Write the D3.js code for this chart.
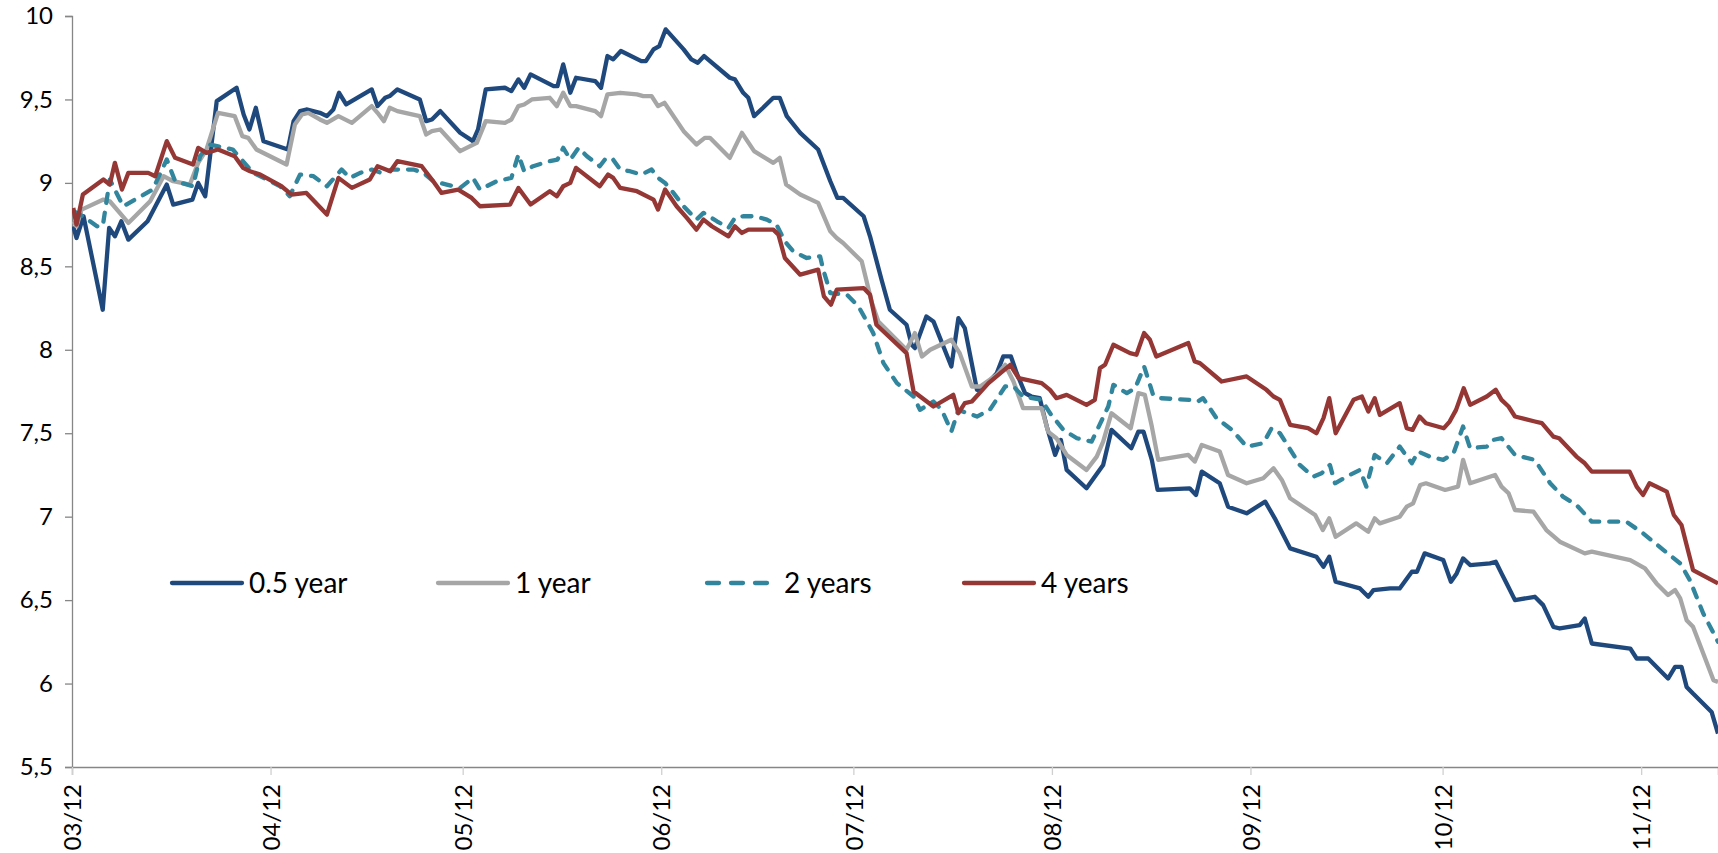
<!DOCTYPE html>
<html>
<head>
<meta charset="utf-8">
<script src="https://cdn.jsdelivr.net/npm/d3@7"></script>
<style>
  html, body { margin: 0; padding: 0; background: #fff; }
  svg { display: block; }
  text { font-family: Lato, "Open Sans", sans-serif; fill: #000; }
</style>
</head>
<body>
<svg id="chart" width="1718" height="853"></svg>
<script>
// Start date of the series (day offsets below are counted from it)
const startDate = "2012-03-01";

// Series names
const seriesNames = ["0.5 year", "1 year", "2 years", "4 years"];

// Y tick values
const yTicks = [5.5, 6, 6.5, 7, 7.5, 8, 8.5, 9, 9.5, 10];

// 0.5 year
const days05 = [0.2,0.7,1.8,4.8,5.8,6.7,7.7,8.8,11.8,14.8,15.8,18.8,19.7,20.8,22.6,25.7,26.8,27.7,28.7,29.9,33.7,34.6,35.6,36.6,38.7,39.8,40.8,41.7,42.8,46.8,47.7,48.9,49.6,50.8,54.3,55.3,56.2,57.5,60.6,62.6,63.4,64.6,67.6,68.6,69.7,70.6,71.6,75.2,75.8,76.7,77.8,78.7,81.7,82.6,83.6,84.5,85.7,88.9,89.6,90.8,91.7,92.7,95.5,96.7,97.7,98.7,102.7,103.5,104.8,105.6,106.5,107.9,109.5,110.5,111.6,113.7,116.5,118.4,119.5,120.4,123.6,124.6,126.4,127.7,130.3,131.1,131.6,133.4,134.5,137.3,138.4,139.4,141.3,142.0,144.4,145.4,146.6,147.5,148.8,149.8,151.1,152.2,153.5,154.4,155.3,158.4,161.0,162.3,165.4,166.5,167.3,168.6,169.5,174.5,175.5,176.4,179.2,180.5,183.4,186.3,187.8,190.2,194.3,195.4,196.3,197.3,201.1,202.4,203.2,205.8,207.3,209.2,210.0,211.2,214.1,215.3,216.2,217.2,218.3,221.4,222.3,223.2,224.0,225.3,228.4,229.7,231.3,232.3,235.4,236.2,237.3,243.3,244.3,246.1,249.2,250.3,251.3,252.1,253.1,256.0,257.0];
const vals05 = [8.74,8.67,8.80,8.24,8.73,8.68,8.77,8.66,8.77,8.99,8.87,8.90,9.00,8.92,9.49,9.57,9.41,9.32,9.45,9.25,9.20,9.37,9.43,9.44,9.42,9.40,9.44,9.54,9.47,9.56,9.46,9.51,9.52,9.56,9.50,9.37,9.38,9.43,9.30,9.25,9.32,9.56,9.57,9.55,9.62,9.57,9.65,9.58,9.58,9.71,9.54,9.63,9.61,9.57,9.76,9.74,9.79,9.73,9.73,9.80,9.82,9.92,9.80,9.74,9.72,9.76,9.63,9.62,9.54,9.51,9.40,9.45,9.51,9.51,9.40,9.30,9.20,9.01,8.91,8.91,8.80,8.68,8.42,8.24,8.15,8.03,8.01,8.20,8.17,7.90,8.19,8.13,7.76,7.76,7.86,7.96,7.96,7.86,7.74,7.72,7.71,7.54,7.37,7.46,7.28,7.17,7.31,7.52,7.41,7.51,7.51,7.34,7.16,7.17,7.13,7.27,7.20,7.06,7.02,7.09,6.99,6.81,6.76,6.70,6.76,6.61,6.57,6.52,6.56,6.57,6.57,6.67,6.67,6.78,6.74,6.61,6.66,6.75,6.71,6.72,6.73,6.66,6.60,6.50,6.52,6.47,6.34,6.33,6.35,6.39,6.24,6.21,6.15,6.15,6.03,6.10,6.10,5.98,5.94,5.83,5.70];

// 1 year
const days1 = [0.2,0.7,1.5,4.9,5.9,8.8,12.2,14.3,15.8,18.4,19.7,21.0,22.8,25.4,26.6,27.5,28.8,33.5,34.8,35.9,36.9,38.7,39.8,41.6,43.7,46.8,47.7,48.7,49.6,50.8,54.3,55.3,56.2,57.5,60.6,63.2,64.6,67.6,68.6,69.7,70.6,71.8,74.6,75.7,76.7,77.8,78.7,81.7,82.6,83.6,85.6,88.2,89.2,90.5,91.5,92.5,95.5,97.5,98.8,99.6,102.7,104.6,106.5,109.5,110.5,111.5,113.7,116.5,118.4,119.4,120.4,123.3,124.9,125.9,130.3,131.6,132.7,134.0,137.3,138.6,140.5,141.8,144.4,145.7,147.0,148.5,151.4,152.4,153.7,155.3,158.4,160.0,161.0,162.3,165.3,166.5,167.5,168.6,169.6,174.3,175.3,176.4,179.2,180.5,183.4,186.0,187.6,188.9,190.2,194.1,195.3,196.3,197.3,200.5,202.4,203.4,204.2,207.3,208.4,209.4,210.5,211.4,214.4,216.4,217.2,218.3,222.2,223.2,224.3,225.3,228.2,230.2,232.3,236.2,237.3,243.3,245.6,247.4,249.2,250.3,251.1,252.1,253.1,256.3,257.0];
const vals1 = [8.77,8.74,8.84,8.90,8.89,8.76,8.89,9.04,9.01,8.99,9.12,9.20,9.42,9.40,9.28,9.27,9.20,9.11,9.35,9.41,9.42,9.38,9.36,9.40,9.36,9.46,9.42,9.37,9.45,9.43,9.40,9.29,9.31,9.32,9.19,9.24,9.37,9.36,9.38,9.46,9.47,9.50,9.51,9.46,9.54,9.46,9.46,9.43,9.40,9.53,9.54,9.53,9.52,9.52,9.46,9.48,9.31,9.23,9.27,9.27,9.15,9.30,9.19,9.12,9.15,8.99,8.93,8.88,8.71,8.67,8.64,8.53,8.28,8.17,8.00,8.10,7.96,8.00,8.06,7.98,7.78,7.78,7.85,7.91,7.81,7.65,7.65,7.51,7.47,7.37,7.28,7.36,7.45,7.62,7.53,7.74,7.73,7.54,7.34,7.37,7.33,7.43,7.39,7.25,7.20,7.23,7.29,7.22,7.11,7.01,6.92,6.99,6.88,6.96,6.91,6.99,6.96,7.00,7.06,7.08,7.19,7.20,7.16,7.18,7.34,7.20,7.25,7.18,7.14,7.04,7.03,6.92,6.85,6.78,6.79,6.74,6.69,6.60,6.53,6.56,6.51,6.38,6.34,6.02,6.01];

// 2 years
const days2 = [0.3,1.7,3.9,4.8,5.9,8.0,12.6,14.8,16.1,18.9,20.0,21.5,25.1,28.3,32.5,34.0,35.6,37.7,39.8,42.1,43.4,45.0,46.8,48.3,50.2,53.3,54.9,56.4,58.5,60.6,62.6,63.7,66.3,68.6,69.7,70.6,72.0,74.6,75.8,76.7,77.8,79.1,80.4,82.4,83.2,84.3,85.6,87.1,88.9,90.5,91.5,92.6,93.9,95.5,97.5,98.6,100.7,102.5,103.5,104.8,106.6,108.5,110.0,111.3,112.6,114.7,116.8,117.3,118.4,121.0,122.8,125.1,126.7,128.8,131.4,132.4,134.5,135.8,137.3,138.4,141.3,143.3,145.7,147.0,148.5,151.4,152.7,154.8,156.9,159.2,161.8,162.6,164.7,166.0,167.4,168.8,169.9,174.5,175.8,176.6,178.7,181.1,183.4,186.0,187.3,188.6,189.6,191.7,193.8,195.1,196.4,197.2,199.5,201.1,202.1,203.4,205.3,207.3,209.2,210.2,212.0,214.1,215.7,217.2,218.3,220.9,221.9,223.2,225.3,228.4,230.8,232.8,234.9,237.3,239.6,242.7,245.3,248.5,251.1,252.6,254.7,257.0];
const vals2 = [8.83,8.80,8.74,8.74,9.02,8.86,8.96,9.14,9.01,8.98,9.16,9.23,9.20,9.06,8.98,8.92,9.05,9.04,8.98,9.08,9.03,9.06,9.08,9.06,9.08,9.08,9.06,9.01,8.99,8.97,9.03,8.96,9.01,9.03,9.17,9.07,9.10,9.13,9.14,9.21,9.14,9.21,9.16,9.10,9.14,9.15,9.08,9.07,9.05,9.08,9.03,9.00,8.94,8.86,8.78,8.82,8.77,8.73,8.79,8.80,8.80,8.78,8.75,8.65,8.59,8.55,8.56,8.48,8.34,8.33,8.26,8.10,7.92,7.80,7.72,7.64,7.69,7.64,7.51,7.64,7.60,7.64,7.78,7.78,7.72,7.70,7.62,7.52,7.47,7.45,7.66,7.79,7.74,7.77,7.90,7.73,7.71,7.70,7.69,7.71,7.59,7.52,7.42,7.44,7.53,7.50,7.44,7.31,7.24,7.26,7.31,7.20,7.25,7.28,7.18,7.37,7.32,7.42,7.32,7.39,7.36,7.34,7.38,7.54,7.41,7.42,7.46,7.47,7.37,7.34,7.20,7.12,7.07,6.97,6.97,6.97,6.90,6.80,6.72,6.62,6.42,6.25];

// 4 years
const days4 = [0.2,0.7,1.7,4.9,5.9,6.7,7.8,8.8,11.9,13.0,14.8,16.1,18.9,19.7,21.0,22.8,25.4,26.7,27.8,29.4,32.7,34.3,36.6,39.8,41.6,43.7,46.5,47.7,49.7,50.8,54.6,56.4,57.7,60.3,62.4,63.7,68.4,69.7,71.6,74.6,75.7,76.7,77.8,78.7,82.4,83.7,84.5,85.6,88.2,90.8,91.5,92.6,94.4,96.0,97.5,98.6,99.9,102.5,103.5,104.6,105.6,109.5,110.3,111.3,113.7,116.5,117.4,118.5,119.4,123.6,124.6,125.6,130.3,131.4,134.5,137.6,138.4,139.4,140.5,143.1,146.5,147.8,151.4,152.7,153.7,155.3,158.4,159.7,160.5,161.3,162.6,165.2,166.2,167.4,168.3,169.3,174.3,175.3,176.1,179.5,183.4,186.5,187.6,188.6,190.2,193.0,194.3,195.4,196.3,197.3,200.1,201.4,202.4,203.4,204.2,207.3,208.4,209.3,210.4,211.4,214.2,215.1,216.1,217.3,218.3,220.9,222.3,223.2,224.3,225.3,228.4,229.5,231.3,232.2,234.9,236.2,237.3,243.2,244.3,245.3,246.3,249.0,250.1,251.3,253.1,257.0];
const vals4 = [8.85,8.75,8.93,9.02,8.99,9.12,8.96,9.06,9.06,9.04,9.25,9.15,9.11,9.21,9.18,9.20,9.16,9.09,9.07,9.05,8.98,8.93,8.94,8.81,9.03,8.97,9.02,9.10,9.07,9.13,9.10,9.01,8.94,8.96,8.91,8.86,8.87,8.97,8.87,8.95,8.92,8.98,9.00,9.09,8.98,9.05,9.03,8.97,8.95,8.90,8.84,8.96,8.86,8.79,8.72,8.78,8.74,8.68,8.74,8.70,8.72,8.72,8.69,8.55,8.45,8.48,8.32,8.27,8.36,8.37,8.33,8.15,7.98,7.75,7.66,7.73,7.62,7.68,7.69,7.80,7.91,7.83,7.80,7.76,7.71,7.73,7.67,7.70,7.89,7.91,8.03,7.98,7.97,8.10,8.06,7.96,8.04,7.93,7.92,7.81,7.84,7.76,7.72,7.70,7.55,7.53,7.50,7.59,7.71,7.50,7.70,7.72,7.63,7.71,7.61,7.68,7.53,7.52,7.60,7.56,7.53,7.57,7.64,7.77,7.67,7.72,7.76,7.70,7.66,7.60,7.57,7.56,7.48,7.47,7.36,7.32,7.27,7.27,7.18,7.13,7.20,7.15,7.01,6.95,6.68,6.60];

const seriesDays = [days05, days1, days2, days4];
const seriesVals = [vals05, vals1, vals2, vals4];
const colors = ["#1F497D", "#A6A6A6", "#31859C", "#953735"];
const dashes = [null, null, "9,10", null];

const DAY = 86400000;
const t0 = Date.parse(startDate + "T00:00:00Z");
const lastDay = 257;

const W = 1718, H = 853;
const plot = { left: 72, right: 1718, top: 16, bottom: 767 };

const svg = d3.select("#chart");

const x = d3.scaleUtc()
  .domain([new Date(t0), new Date(t0 + lastDay * DAY)])
  .range([plot.left, plot.right]);
const y = d3.scaleLinear()
  .domain([5.5, 10])
  .range([plot.bottom, plot.top]);

const fmtY = v => String(v).replace(".", ",");

// Y axis
const yAxis = svg.append("g")
  .attr("transform", `translate(${plot.left},0)`)
  .call(d3.axisLeft(y).tickValues(yTicks).tickFormat(fmtY).tickSize(7).tickPadding(12));
yAxis.select(".domain").attr("stroke", "#868686").attr("stroke-width", 1.3);
yAxis.selectAll(".tick line").attr("stroke", "#868686").attr("stroke-width", 1.3);
yAxis.selectAll(".tick text")
  .style("font-family", "Lato, sans-serif")
  .style("font-size", "24px")
  .attr("fill", "#000");

// X axis
const xAxis = svg.append("g")
  .attr("transform", `translate(0,${plot.bottom})`)
  .call(d3.axisBottom(x).ticks(d3.utcMonth.every(1)).tickFormat(d3.utcFormat("%m/%y")).tickSize(8));
xAxis.select(".domain").attr("stroke", "#868686").attr("stroke-width", 1.3);
xAxis.selectAll(".tick line").attr("stroke", "#d0d0d0").attr("stroke-width", 1.3);
xAxis.selectAll(".tick text")
  .style("font-family", "Lato, sans-serif")
  .style("font-size", "24px")
  .attr("fill", "#000")
  .attr("text-anchor", "end")
  .attr("transform", "rotate(-90)")
  .attr("x", -17)
  .attr("y", 0)
  .attr("dy", "0.36em");

// Clip for lines
svg.append("clipPath").attr("id", "clip")
  .append("rect")
  .attr("x", plot.left).attr("y", 0)
  .attr("width", plot.right - plot.left).attr("height", H);

const line = d3.line()
  .x(d => x(new Date(t0 + d[0] * DAY)))
  .y(d => y(d[1]));

const g = svg.append("g").attr("clip-path", "url(#clip)");
seriesNames.forEach((name, i) => {
  const pts = seriesDays[i].map((d, k) => [d, seriesVals[i][k]]);
  const p = g.append("path")
    .datum(pts)
    .attr("fill", "none")
    .attr("stroke", colors[i])
    .attr("stroke-width", 4.3)
    .attr("stroke-linejoin", "round")
    .attr("stroke-linecap", dashes[i] ? "round" : "butt")
    .attr("d", line);
  if (dashes[i]) p.attr("stroke-dasharray", dashes[i]);
});

// Legend
const legendX = [172, 438, 707, 964];
const legendY = 583;
const leg = svg.append("g");
seriesNames.forEach((name, i) => {
  const lx = legendX[i];
  const l = leg.append("line")
    .attr("x1", lx).attr("x2", lx + 70)
    .attr("y1", legendY).attr("y2", legendY)
    .attr("stroke", colors[i])
    .attr("stroke-width", 4.3)
    .attr("stroke-linecap", "round");
  if (dashes[i]) l.attr("stroke-dasharray", "12,12");
  leg.append("text")
    .attr("x", lx + 77)
    .attr("y", legendY)
    .attr("dy", "0.36em")
    .style("font-size", "28px")
    .text(name);
});
</script>
</body>
</html>
